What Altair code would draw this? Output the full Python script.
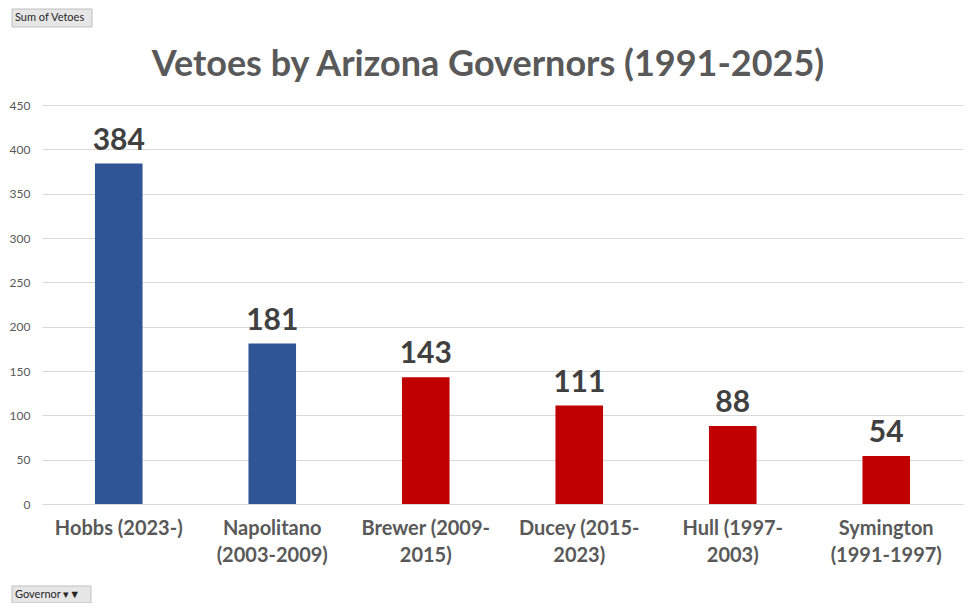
import altair as alt
import pandas as pd

governors = ["Hobbs (2023-)", "Napolitano\n(2003-2009)", "Brewer (2009-\n2015)",
             "Ducey (2015-\n2023)", "Hull (1997-\n2003)", "Symington\n(1991-1997)"]
vetoes = [384, 181, 143, 111, 88, 54]
party = ["D", "D", "R", "R", "R", "R"]
title_text = ["Vetoes by Arizona Governors (1991-2025)"]

df = pd.DataFrame({"Governor": governors, "Vetoes": vetoes, "Party": party})

FONT = "Lato"
GREY = "#595959"

x_enc = alt.X("Governor:N", sort=None, title=None,
              scale=alt.Scale(paddingInner=0.69, paddingOuter=0.345),
              axis=alt.Axis(labelAngle=0, labelExpr="split(datum.label, '\\n')",
                            labelFont=FONT, labelFontWeight="bold", labelFontSize=20,
                            labelColor=GREY, labelPadding=14, labelLineHeight=27,
                            ticks=False, domain=False, grid=False))
y_enc = alt.Y("Vetoes:Q", title=None,
              scale=alt.Scale(domain=[0, 450], nice=False),
              axis=alt.Axis(values=list(range(0, 451, 50)), labelFont=FONT,
                            labelFontSize=12, labelColor=GREY, labelPadding=12,
                            ticks=False, domain=False, gridColor="#d9d9d9"))

bars = alt.Chart(df).mark_bar().encode(
    x=x_enc, y=y_enc,
    color=alt.Color("Party:N", scale=alt.Scale(domain=["D", "R"], range=["#2F5597", "#C00000"]),
                    legend=None))

labels = alt.Chart(df).mark_text(font=FONT, fontWeight="bold", fontSize=30, color="#404040",
                                 baseline="bottom", dy=-8).encode(
    x=alt.X("Governor:N", sort=None), y="Vetoes:Q", text="Vetoes:Q")

tdf = pd.DataFrame({"t": title_text})
title = alt.Chart(tdf).mark_text(font=FONT, fontSize=36, fontWeight="bold", color=GREY,
                                 align="center", baseline="alphabetic").encode(
    x=alt.value(446), y=alt.value(-29), text="t:N")

btn = pd.DataFrame({"t": ["Sum of Vetoes"]})
btn1_rect = alt.Chart(btn).mark_rect(fill="#e6e6e6", stroke="#bfbfbf").encode(
    x=alt.value(-30), x2=alt.value(50), y=alt.value(-96), y2=alt.value(-78))
btn1_text = alt.Chart(btn).mark_text(font=FONT, fontSize=11, color="#262626", align="left",
                                     baseline="middle").encode(
    x=alt.value(-27), y=alt.value(-87), text="t:N")

btn2 = pd.DataFrame({"t": ["Governor  \u25be\u25bc"]})
btn2_rect = alt.Chart(btn2).mark_rect(fill="#e6e6e6", stroke="#bfbfbf").encode(
    x=alt.value(-30), x2=alt.value(49), y=alt.value(481), y2=alt.value(498))
btn2_text = alt.Chart(btn2).mark_text(font=FONT, fontSize=11, color="#262626", align="left",
                                      baseline="middle").encode(
    x=alt.value(-27), y=alt.value(489.5), text="t:N")

chart = alt.layer(bars, labels, title, btn1_rect, btn1_text, btn2_rect, btn2_text).properties(
    width=921, height=399,
    background="white",
    padding={"left": 34, "top": 97, "right": 9, "bottom": 99},
    autosize=alt.AutoSizeParams(type="none"),
).configure_view(stroke=None)

chart.save("out.html", embed_options={"renderer": "svg", "actions": False})
